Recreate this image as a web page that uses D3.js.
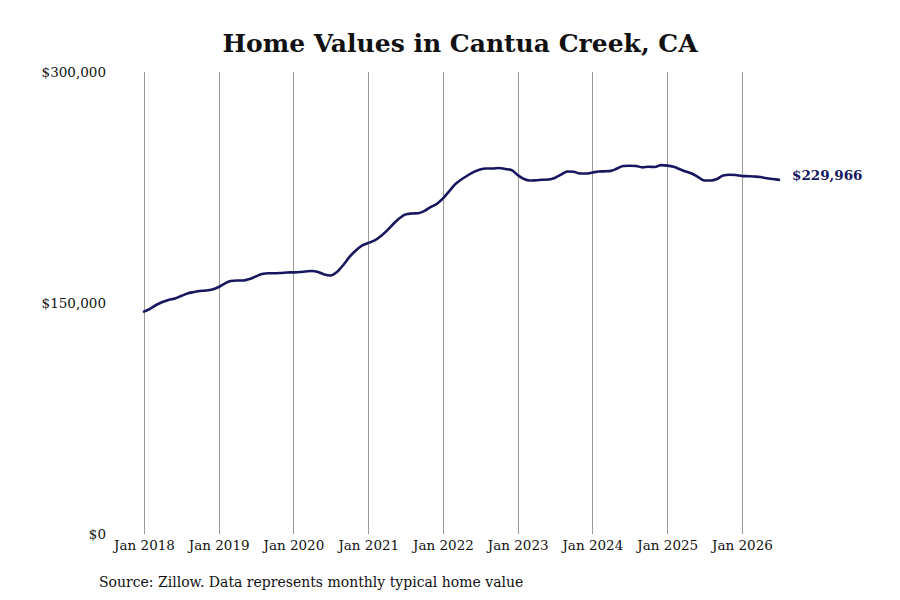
<!DOCTYPE html>
<html>
<head>
<meta charset="utf-8">
<script src="https://cdn.jsdelivr.net/npm/d3@7"></script>
<style>
  body { margin: 0; background: #fff; }
  svg { display: block; font-family: "DejaVu Serif", serif; }
</style>
</head>
<body>
<div id="chart"></div>
<script>
// monthly typical home value, Jan 2018 .. Jul 2026
const startMonth = "2018-01";
const values = [
  144400, 146400, 148700, 150650, 152000, 152900, 154500, 156200, 157100, 157800, 158100, 158800,
  160400, 162700, 164300, 164600, 164600, 165600, 167200, 168800, 169300, 169300, 169500, 169800,
  169900, 170100, 170500, 170800, 170100, 168500, 167900, 170100, 174700, 179900, 184100, 187300,
  189000, 190600, 193200, 196800, 201000, 204900, 207500, 208100, 208300, 209700, 212300, 214300,
  217900, 222700, 227000, 230200, 232800, 235100, 236700, 237300, 237300, 237700, 237000, 236400,
  233100, 230500, 229500, 229700, 230000, 230200, 231200, 233400, 235400, 235200, 234100, 234100,
  234700, 235400, 235500, 235800, 237300, 239000, 239100, 239000, 238100, 238500, 238300, 239500,
  239200, 238400, 237000, 235400, 234100, 231800, 229500, 229500, 230500, 232800, 233300, 233100,
  232500, 232300, 232100, 231800, 231000, 230500, 229966
];
const yTicks = [0, 150000, 300000];
const xTickYears = [2018, 2019, 2020, 2021, 2022, 2023, 2024, 2025, 2026];
const title = "Home Values in Cantua Creek, CA";
const source = "Source: Zillow. Data represents monthly typical home value";

const parseMonth = d3.timeParse("%Y-%m");
const t0 = parseMonth(startMonth);
const data = values.map((v, i) => ({ date: d3.timeMonth.offset(t0, i), value: v }));

const width = 900, height = 600;
const margin = { top: 72, right: 121, bottom: 66, left: 144 };
const lineColor = "#17175f";

const svg = d3.select("#chart").append("svg")
  .attr("width", width)
  .attr("height", height);

const x = d3.scaleTime()
  .domain([new Date(2018, 0, 1), new Date(2026, 6, 1)])
  .range([margin.left, width - margin.right]);

const y = d3.scaleLinear()
  .domain([0, 300000])
  .range([height - margin.bottom, margin.top]);

// title
svg.append("text")
  .attr("x", 460)
  .attr("y", 52)
  .attr("text-anchor", "middle")
  .style("font-size", "25px")
  .style("font-weight", "bold")
  .style("fill", "#111")
  .text(title);

// vertical grid lines at each January
const xTicks = xTickYears.map(yr => new Date(yr, 0, 1));
svg.append("g")
  .selectAll("line")
  .data(xTicks)
  .join("line")
  .attr("x1", d => Math.round(x(d)) + 0.5)
  .attr("x2", d => Math.round(x(d)) + 0.5)
  .attr("y1", y(300000))
  .attr("y2", y(0))
  .attr("stroke", "#999")
  .attr("stroke-width", 1);

// x axis labels
const xAxis = d3.axisBottom(x)
  .tickValues(xTicks)
  .tickFormat(d3.timeFormat("Jan %Y"))
  .tickSize(0)
  .tickPadding(6);
svg.append("g")
  .attr("transform", `translate(0,${y(0)})`)
  .call(xAxis)
  .call(g => g.select(".domain").remove())
  .selectAll("text")
  .style("font-family", "DejaVu Serif")
  .style("font-size", "13.5px")
  .style("fill", "#111");

// y axis labels
const yAxis = d3.axisLeft(y)
  .tickValues(yTicks)
  .tickFormat(d => "$" + d3.format(",")(d))
  .tickSize(0)
  .tickPadding(38);
svg.append("g")
  .attr("transform", `translate(${margin.left},0)`)
  .call(yAxis)
  .call(g => g.select(".domain").remove())
  .selectAll("text")
  .style("font-family", "DejaVu Serif")
  .style("font-size", "13.5px")
  .style("fill", "#111");

// the line
svg.append("path")
  .datum(data)
  .attr("fill", "none")
  .attr("stroke", lineColor)
  .attr("stroke-width", 2.6)
  .attr("stroke-linejoin", "round")
  .attr("stroke-linecap", "round")
  .attr("d", d3.line()
    .curve(d3.curveMonotoneX)
    .x(d => x(d.date))
    .y(d => y(d.value)));

// last value label
const last = data[data.length - 1];
svg.append("text")
  .attr("x", x(last.date) + 13)
  .attr("y", y(last.value) - 5)
  .attr("dy", "0.35em")
  .style("font-size", "13.5px")
  .style("font-weight", "bold")
  .style("fill", lineColor)
  .text("$" + d3.format(",")(last.value));

// source note
svg.append("text")
  .attr("x", 99)
  .attr("y", 587)
  .style("font-size", "14px")
  .style("fill", "#111")
  .text(source);
</script>
</body>
</html>
